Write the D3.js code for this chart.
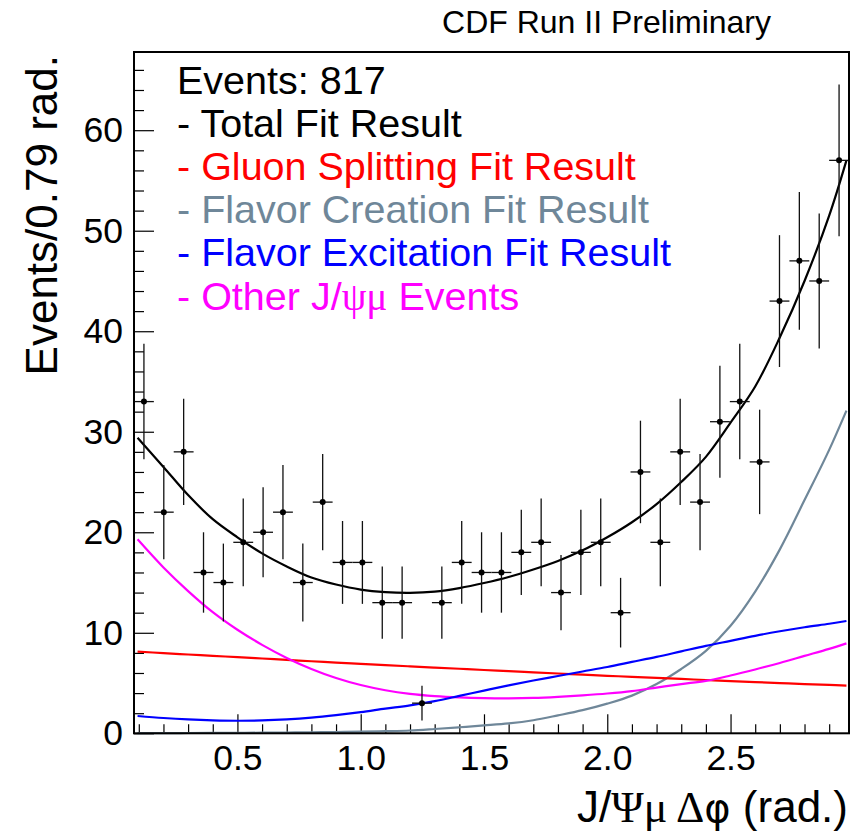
<!DOCTYPE html>
<html>
<head>
<meta charset="utf-8">
<script src="https://cdn.jsdelivr.net/npm/d3@7"></script>
<style>
  html, body { margin: 0; padding: 0; background: #fff; }
  svg { display: block; }
  text { font-family: "Liberation Sans", Arial, Helvetica, sans-serif; }
</style>
</head>
<body>
<div id="chart"></div>
<script>
// ---------------- data ----------------
const xMin = 0.08055, xMax = 2.9804;   // histogram range (rad.)
const yMax = 67.78;
const binCounts = [33,22,28,16,15,19,20,22,15,23,17,17,13,13,3,13,17,16,16,18,
                   19,14,18,19,12,26,19,28,23,31,33,27,43,47,45,57];

const fitX = [0.095,0.2,0.3,0.4,0.5,0.6,0.7,0.8,0.9,1.0,1.1,1.2,1.3,1.4,1.5,1.6,1.7,1.8,1.9,2.0,
              2.1,2.2,2.3,2.4,2.5,2.6,2.7,2.8,2.9,2.97];
const totalFit = [29.4,26.5,23.7,21.3,19.5,17.9,16.6,15.5,14.8,14.3,14.05,13.98,14.1,14.45,14.95,15.55,16.3,17.15,18.2,19.5,
                  21.0,22.8,25.0,27.5,30.9,34.5,39.4,45.0,51.5,57.0];
const gluonSplitting = [8.12,7.98,7.84,7.71,7.57,7.44,7.3,7.17,7.03,6.9,6.78,6.66,6.54,6.42,6.3,6.19,6.07,5.95,5.84,5.72,
                        5.62,5.51,5.41,5.3,5.2,5.1,5.0,4.9,4.81,4.74];
const flavorCreation = [0.02,0.02,0.03,0.04,0.05,0.06,0.08,0.1,0.13,0.16,0.21,0.28,0.43,0.6,0.78,0.98,1.3,1.78,2.3,2.95,
                        3.75,4.9,6.4,8.2,10.7,14.1,18.3,23.2,28.2,32.1];
const flavorExcitation = [1.72,1.52,1.38,1.29,1.25,1.28,1.38,1.55,1.8,2.1,2.45,2.78,3.2,3.72,4.25,4.77,5.25,5.7,6.15,6.6,
                          7.1,7.6,8.15,8.7,9.2,9.7,10.15,10.55,10.9,11.17];
const otherEvents = [19.3,16.5,14.15,12.05,10.3,8.8,7.5,6.4,5.5,4.8,4.28,3.92,3.7,3.57,3.5,3.48,3.52,3.63,3.78,3.96,
                     4.2,4.55,4.9,5.22,5.75,6.35,7.0,7.7,8.4,8.95];

const xMajorTicks = [0.5,1.0,1.5,2.0,2.5];
const xMinorTicks = [0.1,0.2,0.3,0.4,0.6,0.7,0.8,0.9,1.1,1.2,1.3,1.4,1.6,1.7,1.8,1.9,2.1,2.2,2.3,2.4,2.6,2.7,2.8,2.9];
const yMajorTicks = [0,10,20,30,40,50,60];
const yMinorTicks = [2,4,6,8,12,14,16,18,22,24,26,28,32,34,36,38,42,44,46,48,52,54,56,58,62,64,66];

const legendLines = [
  {text: "Events: 817", color: "#000000"},
  {text: "- Total Fit Result", color: "#000000"},
  {text: "- Gluon Splitting Fit Result", color: "#ff0000"},
  {text: "- Flavor Creation Fit Result", color: "#6f8799"},
  {text: "- Flavor Excitation Fit Result", color: "#0000ff"},
  {text: "- Other J/ψμ Events", color: "#ff00ff"}
];

// ---------------- layout ----------------
const W = 853, H = 835;
const L = 134, R = 849, T = 52, B = 733.3;

const svg = d3.select("#chart").append("svg").attr("width", W).attr("height", H);

const x = d3.scaleLinear().domain([xMin, xMax]).range([L, R]);
const y = d3.scaleLinear().domain([0, yMax]).range([B, T]);

// axes
const gx = svg.append("g").attr("transform", `translate(0,${B})`);
gx.call(d3.axisBottom(x).tickValues(xMinorTicks).tickSize(-9).tickFormat(""));
gx.select(".domain").remove();
const gx2 = svg.append("g").attr("transform", `translate(0,${B})`);
gx2.call(d3.axisBottom(x).tickValues(xMajorTicks).tickSize(-19).tickPadding(11).tickFormat(d3.format(".1f")));
gx2.select(".domain").remove();

const gy = svg.append("g").attr("transform", `translate(${L},0)`);
gy.call(d3.axisLeft(y).tickValues(yMinorTicks).tickSize(-10).tickFormat(""));
gy.select(".domain").remove();
const gy2 = svg.append("g").attr("transform", `translate(${L},0)`);
gy2.call(d3.axisLeft(y).tickValues(yMajorTicks).tickSize(-20).tickPadding(11).tickFormat(d3.format("d")));
gy2.select(".domain").remove();

svg.selectAll(".tick line").attr("stroke", "#000").attr("stroke-width", 1.2);
svg.selectAll(".tick text").attr("font-size", 35.5).attr("font-family", "Liberation Sans, Arial, sans-serif").attr("fill", "#000");

// fit curves
const line = (vals) => d3.line()
  .x((d, i) => x(fitX[i]))
  .y(d => y(d))
  .curve(d3.curveCatmullRom.alpha(0.5))(vals);

const curves = [
  {vals: flavorCreation, color: "#6f8799"},
  {vals: gluonSplitting, color: "#ff0000"},
  {vals: otherEvents, color: "#ff00ff"},
  {vals: flavorExcitation, color: "#0000ff"},
  {vals: totalFit, color: "#000000"}
];
svg.append("g").selectAll("path").data(curves).join("path")
  .attr("d", d => line(d.vals))
  .attr("fill", "none")
  .attr("stroke", d => d.color)
  .attr("stroke-width", 2.2);

// data points with errors
const binW = (xMax - xMin) / binCounts.length;
const pts = binCounts.map((c, i) => ({xc: xMin + (i + 0.5) * binW, x0: xMin + i * binW, x1: xMin + (i + 1) * binW, v: c, e: Math.sqrt(c)}));
const gp = svg.append("g");
gp.selectAll("line.v").data(pts).join("line").attr("class", "v")
  .attr("x1", d => x(d.xc)).attr("x2", d => x(d.xc))
  .attr("y1", d => y(d.v - d.e)).attr("y2", d => y(d.v + d.e))
  .attr("stroke", "#111").attr("stroke-width", 1.3);
gp.selectAll("line.h").data(pts).join("line").attr("class", "h")
  .attr("x1", d => x(d.x0)).attr("x2", d => x(d.x1))
  .attr("y1", d => y(d.v)).attr("y2", d => y(d.v))
  .attr("stroke", "#111").attr("stroke-width", 1.3);
gp.selectAll("circle").data(pts).join("circle")
  .attr("cx", d => x(d.xc)).attr("cy", d => y(d.v)).attr("r", 3)
  .attr("fill", "#000");

// frame
svg.append("rect").attr("x", L).attr("y", T).attr("width", R - L).attr("height", B - T)
  .attr("fill", "none").attr("stroke", "#000").attr("stroke-width", 2);

// legend text
const lg = svg.append("g");
legendLines.forEach((d, i) => {
  const t = lg.append("text").attr("x", 177).attr("y", 94 + i * 43.1)
    .attr("font-size", 39.5).attr("fill", d.color);
  if (d.text.includes("ψμ")) {
    const parts = d.text.split("ψμ");
    t.append("tspan").text(parts[0]);
    t.append("tspan").attr("font-family", "Liberation Serif, serif").text("ψμ");
    t.append("tspan").text(parts[1]);
  } else {
    t.text(d.text);
  }
});

// title
svg.append("text").attr("x", 771).attr("y", 33).attr("text-anchor", "end")
  .attr("font-size", 32).text("CDF Run II Preliminary");

// axis titles
const xt = svg.append("text").attr("x", 848).attr("y", 822).attr("text-anchor", "end").attr("font-size", 44);
xt.append("tspan").text("J/");
xt.append("tspan").attr("font-family", "Liberation Serif, serif").text("Ψμ Δ");
xt.append("tspan").attr("font-family", "DejaVu Sans, sans-serif").attr("font-size", 40).text("φ");
xt.append("tspan").text(" (rad.)");

svg.append("text").attr("transform", "translate(57,55) rotate(-90)")
  .attr("text-anchor", "end").attr("font-size", 44).text("Events/0.79 rad.");
</script>
</body>
</html>
